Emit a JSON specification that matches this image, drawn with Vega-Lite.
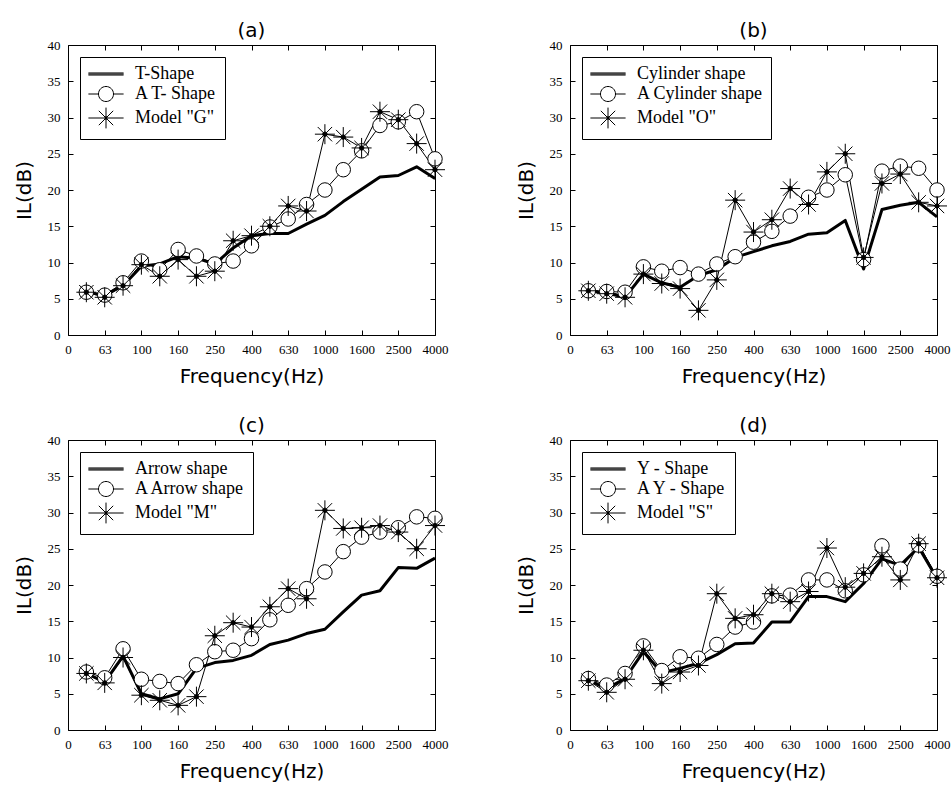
{
"$schema": "https://vega.github.io/schema/vega-lite/v6.json",
"autosize": {"type": "pad"},
"padding": {"left": 13, "top": 20, "right": 4, "bottom": 6},
"background": "white",
"config": {
  "view": {"stroke": "black", "strokeWidth": 1},
  "font": "DejaVu Sans",
  "axis": {"grid": false, "domain": false, "tickColor": "black", "tickSize": -5, "labelFont": "Liberation Serif", "labelFontSize": 13, "labelColor": "black", "labelPadding": 13, "labelOverlap": false, "labelFlush": false, "titleFont": "DejaVu Sans", "titleFontSize": 20, "titleFontWeight": "normal", "titleColor": "black"},
  "axisX": {"titlePadding": 10},
  "axisY": {"titlePadding": 13},
  "title": {"font": "DejaVu Sans", "fontSize": 20, "fontWeight": "normal", "color": "black", "offset": -2},
  "legend": {"orient": "top-left", "offset": 12, "padding": 8, "strokeColor": "black", "fillColor": "white", "labelFont": "Liberation Serif", "labelFontSize": 18, "labelColor": "black", "symbolSize": 256, "symbolOffset": 9, "labelOffset": 20, "rowPadding": 1, "symbolOpacity": 1, "symbolStrokeColor": "black", "symbolFillColor": "white", "symbolStrokeWidth": 1, "labelLimit": 400}
},
"datasets": {
"a": [
{"role":"main","series":"T-Shape","i":1,"v":5.9},{"role":"main","series":"T-Shape","i":2,"v":5.5},{"role":"main","series":"T-Shape","i":3,"v":6.8},{"role":"main","series":"T-Shape","i":4,"v":9.5},{"role":"main","series":"T-Shape","i":5,"v":9.8},{"role":"main","series":"T-Shape","i":6,"v":10.8},{"role":"main","series":"T-Shape","i":7,"v":10.6},{"role":"main","series":"T-Shape","i":8,"v":9.8},{"role":"main","series":"T-Shape","i":9,"v":12.0},{"role":"main","series":"T-Shape","i":10,"v":13.7},{"role":"main","series":"T-Shape","i":11,"v":14.0},{"role":"main","series":"T-Shape","i":12,"v":14.0},{"role":"main","series":"T-Shape","i":13,"v":15.3},{"role":"main","series":"T-Shape","i":14,"v":16.5},{"role":"main","series":"T-Shape","i":15,"v":18.4},{"role":"main","series":"T-Shape","i":16,"v":20.1},{"role":"main","series":"T-Shape","i":17,"v":21.8},{"role":"main","series":"T-Shape","i":18,"v":22.0},{"role":"main","series":"T-Shape","i":19,"v":23.2},{"role":"main","series":"T-Shape","i":20,"v":21.6},
{"role":"A","series":"A T- Shape","i":1,"v":5.9},{"role":"A","series":"A T- Shape","i":2,"v":5.5},{"role":"A","series":"A T- Shape","i":3,"v":7.2},{"role":"A","series":"A T- Shape","i":4,"v":10.2},{"role":"A","series":"A T- Shape","i":5,"v":9.0},{"role":"A","series":"A T- Shape","i":6,"v":11.8},{"role":"A","series":"A T- Shape","i":7,"v":10.9},{"role":"A","series":"A T- Shape","i":8,"v":9.8},{"role":"A","series":"A T- Shape","i":9,"v":10.2},{"role":"A","series":"A T- Shape","i":10,"v":12.3},{"role":"A","series":"A T- Shape","i":11,"v":14.9},{"role":"A","series":"A T- Shape","i":12,"v":16.0},{"role":"A","series":"A T- Shape","i":13,"v":18.0},{"role":"A","series":"A T- Shape","i":14,"v":20.0},{"role":"A","series":"A T- Shape","i":15,"v":22.8},{"role":"A","series":"A T- Shape","i":16,"v":25.4},{"role":"A","series":"A T- Shape","i":17,"v":28.9},{"role":"A","series":"A T- Shape","i":18,"v":29.4},{"role":"A","series":"A T- Shape","i":19,"v":30.8},{"role":"A","series":"A T- Shape","i":20,"v":24.3},
{"role":"model","series":"Model \"G\"","i":1,"v":5.9},{"role":"model","series":"Model \"G\"","i":2,"v":5.2},{"role":"model","series":"Model \"G\"","i":3,"v":6.8},{"role":"model","series":"Model \"G\"","i":4,"v":9.7},{"role":"model","series":"Model \"G\"","i":5,"v":8.1},{"role":"model","series":"Model \"G\"","i":6,"v":10.4},{"role":"model","series":"Model \"G\"","i":7,"v":8.1},{"role":"model","series":"Model \"G\"","i":8,"v":8.8},{"role":"model","series":"Model \"G\"","i":9,"v":13.0},{"role":"model","series":"Model \"G\"","i":10,"v":13.7},{"role":"model","series":"Model \"G\"","i":11,"v":15.0},{"role":"model","series":"Model \"G\"","i":12,"v":17.8},{"role":"model","series":"Model \"G\"","i":13,"v":17.1},{"role":"model","series":"Model \"G\"","i":14,"v":27.7},{"role":"model","series":"Model \"G\"","i":15,"v":27.3},{"role":"model","series":"Model \"G\"","i":16,"v":25.8},{"role":"model","series":"Model \"G\"","i":17,"v":30.8},{"role":"model","series":"Model \"G\"","i":18,"v":29.7},{"role":"model","series":"Model \"G\"","i":19,"v":26.4},{"role":"model","series":"Model \"G\"","i":20,"v":22.8}
],
"b": [
{"role":"main","series":"Cylinder shape","i":1,"v":6.1},{"role":"main","series":"Cylinder shape","i":2,"v":5.8},{"role":"main","series":"Cylinder shape","i":3,"v":5.2},{"role":"main","series":"Cylinder shape","i":4,"v":8.4},{"role":"main","series":"Cylinder shape","i":5,"v":7.2},{"role":"main","series":"Cylinder shape","i":6,"v":6.6},{"role":"main","series":"Cylinder shape","i":7,"v":8.2},{"role":"main","series":"Cylinder shape","i":8,"v":9.0},{"role":"main","series":"Cylinder shape","i":9,"v":10.7},{"role":"main","series":"Cylinder shape","i":10,"v":11.5},{"role":"main","series":"Cylinder shape","i":11,"v":12.3},{"role":"main","series":"Cylinder shape","i":12,"v":12.9},{"role":"main","series":"Cylinder shape","i":13,"v":13.9},{"role":"main","series":"Cylinder shape","i":14,"v":14.1},{"role":"main","series":"Cylinder shape","i":15,"v":15.8},{"role":"main","series":"Cylinder shape","i":16,"v":9.1},{"role":"main","series":"Cylinder shape","i":17,"v":17.3},{"role":"main","series":"Cylinder shape","i":18,"v":17.9},{"role":"main","series":"Cylinder shape","i":19,"v":18.3},{"role":"main","series":"Cylinder shape","i":20,"v":16.3},
{"role":"A","series":"A Cylinder shape","i":1,"v":6.1},{"role":"A","series":"A Cylinder shape","i":2,"v":6.0},{"role":"A","series":"A Cylinder shape","i":3,"v":5.9},{"role":"A","series":"A Cylinder shape","i":4,"v":9.4},{"role":"A","series":"A Cylinder shape","i":5,"v":8.8},{"role":"A","series":"A Cylinder shape","i":6,"v":9.3},{"role":"A","series":"A Cylinder shape","i":7,"v":8.4},{"role":"A","series":"A Cylinder shape","i":8,"v":9.8},{"role":"A","series":"A Cylinder shape","i":9,"v":10.8},{"role":"A","series":"A Cylinder shape","i":10,"v":12.8},{"role":"A","series":"A Cylinder shape","i":11,"v":14.3},{"role":"A","series":"A Cylinder shape","i":12,"v":16.4},{"role":"A","series":"A Cylinder shape","i":13,"v":19.0},{"role":"A","series":"A Cylinder shape","i":14,"v":20.0},{"role":"A","series":"A Cylinder shape","i":15,"v":22.1},{"role":"A","series":"A Cylinder shape","i":16,"v":10.4},{"role":"A","series":"A Cylinder shape","i":17,"v":22.6},{"role":"A","series":"A Cylinder shape","i":18,"v":23.3},{"role":"A","series":"A Cylinder shape","i":19,"v":23.0},{"role":"A","series":"A Cylinder shape","i":20,"v":20.0},
{"role":"model","series":"Model \"O\"","i":1,"v":6.1},{"role":"model","series":"Model \"O\"","i":2,"v":5.7},{"role":"model","series":"Model \"O\"","i":3,"v":5.2},{"role":"model","series":"Model \"O\"","i":4,"v":8.4},{"role":"model","series":"Model \"O\"","i":5,"v":7.1},{"role":"model","series":"Model \"O\"","i":6,"v":6.4},{"role":"model","series":"Model \"O\"","i":7,"v":3.4},{"role":"model","series":"Model \"O\"","i":8,"v":7.6},{"role":"model","series":"Model \"O\"","i":9,"v":18.6},{"role":"model","series":"Model \"O\"","i":10,"v":14.2},{"role":"model","series":"Model \"O\"","i":11,"v":15.9},{"role":"model","series":"Model \"O\"","i":12,"v":20.2},{"role":"model","series":"Model \"O\"","i":13,"v":18.0},{"role":"model","series":"Model \"O\"","i":14,"v":22.5},{"role":"model","series":"Model \"O\"","i":15,"v":25.0},{"role":"model","series":"Model \"O\"","i":16,"v":10.7},{"role":"model","series":"Model \"O\"","i":17,"v":20.9},{"role":"model","series":"Model \"O\"","i":18,"v":22.2},{"role":"model","series":"Model \"O\"","i":19,"v":18.3},{"role":"model","series":"Model \"O\"","i":20,"v":17.8}
],
"c": [
{"role":"main","series":"Arrow shape","i":1,"v":7.8},{"role":"main","series":"Arrow shape","i":2,"v":6.6},{"role":"main","series":"Arrow shape","i":3,"v":10.2},{"role":"main","series":"Arrow shape","i":4,"v":5.0},{"role":"main","series":"Arrow shape","i":5,"v":4.3},{"role":"main","series":"Arrow shape","i":6,"v":5.0},{"role":"main","series":"Arrow shape","i":7,"v":8.5},{"role":"main","series":"Arrow shape","i":8,"v":9.3},{"role":"main","series":"Arrow shape","i":9,"v":9.6},{"role":"main","series":"Arrow shape","i":10,"v":10.3},{"role":"main","series":"Arrow shape","i":11,"v":11.8},{"role":"main","series":"Arrow shape","i":12,"v":12.4},{"role":"main","series":"Arrow shape","i":13,"v":13.3},{"role":"main","series":"Arrow shape","i":14,"v":13.9},{"role":"main","series":"Arrow shape","i":15,"v":16.3},{"role":"main","series":"Arrow shape","i":16,"v":18.6},{"role":"main","series":"Arrow shape","i":17,"v":19.2},{"role":"main","series":"Arrow shape","i":18,"v":22.4},{"role":"main","series":"Arrow shape","i":19,"v":22.3},{"role":"main","series":"Arrow shape","i":20,"v":23.7},
{"role":"A","series":"A Arrow shape","i":1,"v":8.0},{"role":"A","series":"A Arrow shape","i":2,"v":7.2},{"role":"A","series":"A Arrow shape","i":3,"v":11.2},{"role":"A","series":"A Arrow shape","i":4,"v":7.0},{"role":"A","series":"A Arrow shape","i":5,"v":6.7},{"role":"A","series":"A Arrow shape","i":6,"v":6.4},{"role":"A","series":"A Arrow shape","i":7,"v":9.0},{"role":"A","series":"A Arrow shape","i":8,"v":10.8},{"role":"A","series":"A Arrow shape","i":9,"v":11.0},{"role":"A","series":"A Arrow shape","i":10,"v":12.6},{"role":"A","series":"A Arrow shape","i":11,"v":15.2},{"role":"A","series":"A Arrow shape","i":12,"v":17.2},{"role":"A","series":"A Arrow shape","i":13,"v":19.5},{"role":"A","series":"A Arrow shape","i":14,"v":21.8},{"role":"A","series":"A Arrow shape","i":15,"v":24.6},{"role":"A","series":"A Arrow shape","i":16,"v":26.6},{"role":"A","series":"A Arrow shape","i":17,"v":27.3},{"role":"A","series":"A Arrow shape","i":18,"v":27.9},{"role":"A","series":"A Arrow shape","i":19,"v":29.4},{"role":"A","series":"A Arrow shape","i":20,"v":29.2},
{"role":"model","series":"Model \"M\"","i":1,"v":7.8},{"role":"model","series":"Model \"M\"","i":2,"v":6.5},{"role":"model","series":"Model \"M\"","i":3,"v":10.0},{"role":"model","series":"Model \"M\"","i":4,"v":4.8},{"role":"model","series":"Model \"M\"","i":5,"v":4.1},{"role":"model","series":"Model \"M\"","i":6,"v":3.4},{"role":"model","series":"Model \"M\"","i":7,"v":4.6},{"role":"model","series":"Model \"M\"","i":8,"v":13.0},{"role":"model","series":"Model \"M\"","i":9,"v":14.8},{"role":"model","series":"Model \"M\"","i":10,"v":14.2},{"role":"model","series":"Model \"M\"","i":11,"v":17.0},{"role":"model","series":"Model \"M\"","i":12,"v":19.5},{"role":"model","series":"Model \"M\"","i":13,"v":18.1},{"role":"model","series":"Model \"M\"","i":14,"v":30.3},{"role":"model","series":"Model \"M\"","i":15,"v":27.8},{"role":"model","series":"Model \"M\"","i":16,"v":27.9},{"role":"model","series":"Model \"M\"","i":17,"v":28.2},{"role":"model","series":"Model \"M\"","i":18,"v":27.3},{"role":"model","series":"Model \"M\"","i":19,"v":25.0},{"role":"model","series":"Model \"M\"","i":20,"v":28.2}
],
"d": [
{"role":"main","series":"Y - Shape","i":1,"v":6.9},{"role":"main","series":"Y - Shape","i":2,"v":5.7},{"role":"main","series":"Y - Shape","i":3,"v":7.1},{"role":"main","series":"Y - Shape","i":4,"v":10.8},{"role":"main","series":"Y - Shape","i":5,"v":7.9},{"role":"main","series":"Y - Shape","i":6,"v":8.5},{"role":"main","series":"Y - Shape","i":7,"v":9.2},{"role":"main","series":"Y - Shape","i":8,"v":10.4},{"role":"main","series":"Y - Shape","i":9,"v":11.9},{"role":"main","series":"Y - Shape","i":10,"v":12.0},{"role":"main","series":"Y - Shape","i":11,"v":14.9},{"role":"main","series":"Y - Shape","i":12,"v":14.9},{"role":"main","series":"Y - Shape","i":13,"v":18.4},{"role":"main","series":"Y - Shape","i":14,"v":18.4},{"role":"main","series":"Y - Shape","i":15,"v":17.7},{"role":"main","series":"Y - Shape","i":16,"v":20.2},{"role":"main","series":"Y - Shape","i":17,"v":23.6},{"role":"main","series":"Y - Shape","i":18,"v":22.7},{"role":"main","series":"Y - Shape","i":19,"v":25.2},{"role":"main","series":"Y - Shape","i":20,"v":20.9},
{"role":"A","series":"A Y - Shape","i":1,"v":7.1},{"role":"A","series":"A Y - Shape","i":2,"v":6.2},{"role":"A","series":"A Y - Shape","i":3,"v":7.8},{"role":"A","series":"A Y - Shape","i":4,"v":11.6},{"role":"A","series":"A Y - Shape","i":5,"v":8.2},{"role":"A","series":"A Y - Shape","i":6,"v":10.1},{"role":"A","series":"A Y - Shape","i":7,"v":9.9},{"role":"A","series":"A Y - Shape","i":8,"v":11.8},{"role":"A","series":"A Y - Shape","i":9,"v":14.2},{"role":"A","series":"A Y - Shape","i":10,"v":14.9},{"role":"A","series":"A Y - Shape","i":11,"v":18.5},{"role":"A","series":"A Y - Shape","i":12,"v":18.6},{"role":"A","series":"A Y - Shape","i":13,"v":20.7},{"role":"A","series":"A Y - Shape","i":14,"v":20.7},{"role":"A","series":"A Y - Shape","i":15,"v":19.2},{"role":"A","series":"A Y - Shape","i":16,"v":21.4},{"role":"A","series":"A Y - Shape","i":17,"v":25.4},{"role":"A","series":"A Y - Shape","i":18,"v":22.2},{"role":"A","series":"A Y - Shape","i":19,"v":25.5},{"role":"A","series":"A Y - Shape","i":20,"v":21.2},
{"role":"model","series":"Model \"S\"","i":1,"v":6.8},{"role":"model","series":"Model \"S\"","i":2,"v":5.2},{"role":"model","series":"Model \"S\"","i":3,"v":7.0},{"role":"model","series":"Model \"S\"","i":4,"v":11.0},{"role":"model","series":"Model \"S\"","i":5,"v":6.4},{"role":"model","series":"Model \"S\"","i":6,"v":8.0},{"role":"model","series":"Model \"S\"","i":7,"v":8.9},{"role":"model","series":"Model \"S\"","i":8,"v":18.8},{"role":"model","series":"Model \"S\"","i":9,"v":15.4},{"role":"model","series":"Model \"S\"","i":10,"v":15.9},{"role":"model","series":"Model \"S\"","i":11,"v":18.8},{"role":"model","series":"Model \"S\"","i":12,"v":17.7},{"role":"model","series":"Model \"S\"","i":13,"v":19.1},{"role":"model","series":"Model \"S\"","i":14,"v":25.1},{"role":"model","series":"Model \"S\"","i":15,"v":19.7},{"role":"model","series":"Model \"S\"","i":16,"v":21.6},{"role":"model","series":"Model \"S\"","i":17,"v":23.9},{"role":"model","series":"Model \"S\"","i":18,"v":20.7},{"role":"model","series":"Model \"S\"","i":19,"v":25.7},{"role":"model","series":"Model \"S\"","i":20,"v":21.0}
]
},
"columns": 2,
"spacing": {"row": 105, "column": 135},
"bounds": "flush",
"resolve": {"scale": {"shape": "independent"}, "legend": {"shape": "independent"}},
"concat": [
{"title": "(a)", "width": 367, "height": 290, "data": {"name": "a"},
 "resolve": {"axis": {"x": "independent", "y": "independent"}},
 "layer": [
  {"transform": [{"filter": {"field": "role", "equal": "main"}}], "mark": {"type": "line", "stroke": "black", "strokeWidth": 3, "strokeJoin": "round"},
   "encoding": {"x": {"field": "i", "type": "quantitative", "scale": {"domain": [0, 20]}, "axis": {"values": [0,2,4,6,8,10,12,14,16,18,20], "labelExpr": "['0','63','100','160','250','400','630','1000','1600','2500','4000'][datum.value/2]", "title": "Frequency(Hz)"}},
                "y": {"field": "v", "type": "quantitative", "scale": {"domain": [0, 40]}, "axis": {"values": [0,5,10,15,20,25,30,35,40], "title": "IL(dB)"}}}},
  {"transform": [{"filter": {"field": "role", "equal": "A"}}], "mark": {"type": "line", "stroke": "black", "strokeWidth": 1},
   "encoding": {"x": {"field": "i", "type": "quantitative", "axis": {"orient": "top", "values": [0,2,4,6,8,10,12,14,16,18,20], "labels": false, "title": null}},
                "y": {"field": "v", "type": "quantitative", "axis": {"orient": "right", "values": [0,5,10,15,20,25,30,35,40], "labels": false, "title": null}}}},
  {"transform": [{"filter": {"field": "role", "equal": "model"}}], "mark": {"type": "line", "stroke": "black", "strokeWidth": 1},
   "encoding": {"x": {"field": "i", "type": "quantitative", "axis": null}, "y": {"field": "v", "type": "quantitative", "axis": null}}},
  {"transform": [{"filter": {"field": "role", "equal": "A"}}], "mark": {"type": "point", "shape": "circle", "size": 210, "filled": true, "fill": "white", "stroke": "black", "strokeWidth": 1, "opacity": 1},
   "encoding": {"x": {"field": "i", "type": "quantitative", "axis": null}, "y": {"field": "v", "type": "quantitative", "axis": null}}},
  {"transform": [{"filter": {"field": "role", "equal": "model"}}], "mark": {"type": "point", "shape": "M0,-1V1M-1,0H1M-0.72,-0.72L0.72,0.72M-0.72,0.72L0.72,-0.72M-0.22,0A0.22,0.22 0 1 1 0.22,0A0.22,0.22 0 1 1 -0.22,0", "size": 400, "filled": true, "fill": "black", "stroke": "black", "strokeWidth": 1, "opacity": 1},
   "encoding": {"x": {"field": "i", "type": "quantitative", "axis": null}, "y": {"field": "v", "type": "quantitative", "axis": null}}},
  {"mark": {"type": "point", "opacity": 0},
   "encoding": {"x": {"field": "i", "type": "quantitative", "axis": null}, "y": {"field": "v", "type": "quantitative", "axis": null},
     "shape": {"field": "series", "type": "nominal", "scale": {"domain": ["T-Shape", "A T- Shape", "Model \"G\""], "range": ["M-2.2,-0.13H2.2M-2.2,0H2.2M-2.2,0.13H2.2", "M-2.2,0H-0.94M0.94,0H2.2M-0.94,0A0.94,0.94 0 1 1 0.94,0A0.94,0.94 0 1 1 -0.94,0", "M-2.2,0H2.2M0,-1.3V1.3M-0.9,-0.9L0.9,0.9M-0.9,0.9L0.9,-0.9M-0.22,-0.14H0.22M-0.22,0.14H0.22"]},
       "legend": {"title": null}}}}
 ]},
{"title": "(b)", "width": 367, "height": 290, "data": {"name": "b"},
 "resolve": {"axis": {"x": "independent", "y": "independent"}},
 "layer": [
  {"transform": [{"filter": {"field": "role", "equal": "main"}}], "mark": {"type": "line", "stroke": "black", "strokeWidth": 3, "strokeJoin": "round"},
   "encoding": {"x": {"field": "i", "type": "quantitative", "scale": {"domain": [0, 20]}, "axis": {"values": [0,2,4,6,8,10,12,14,16,18,20], "labelExpr": "['0','63','100','160','250','400','630','1000','1600','2500','4000'][datum.value/2]", "title": "Frequency(Hz)"}},
                "y": {"field": "v", "type": "quantitative", "scale": {"domain": [0, 40]}, "axis": {"values": [0,5,10,15,20,25,30,35,40], "title": "IL(dB)"}}}},
  {"transform": [{"filter": {"field": "role", "equal": "A"}}], "mark": {"type": "line", "stroke": "black", "strokeWidth": 1},
   "encoding": {"x": {"field": "i", "type": "quantitative", "axis": {"orient": "top", "values": [0,2,4,6,8,10,12,14,16,18,20], "labels": false, "title": null}},
                "y": {"field": "v", "type": "quantitative", "axis": {"orient": "right", "values": [0,5,10,15,20,25,30,35,40], "labels": false, "title": null}}}},
  {"transform": [{"filter": {"field": "role", "equal": "model"}}], "mark": {"type": "line", "stroke": "black", "strokeWidth": 1},
   "encoding": {"x": {"field": "i", "type": "quantitative", "axis": null}, "y": {"field": "v", "type": "quantitative", "axis": null}}},
  {"transform": [{"filter": {"field": "role", "equal": "A"}}], "mark": {"type": "point", "shape": "circle", "size": 210, "filled": true, "fill": "white", "stroke": "black", "strokeWidth": 1, "opacity": 1},
   "encoding": {"x": {"field": "i", "type": "quantitative", "axis": null}, "y": {"field": "v", "type": "quantitative", "axis": null}}},
  {"transform": [{"filter": {"field": "role", "equal": "model"}}], "mark": {"type": "point", "shape": "M0,-1V1M-1,0H1M-0.72,-0.72L0.72,0.72M-0.72,0.72L0.72,-0.72M-0.22,0A0.22,0.22 0 1 1 0.22,0A0.22,0.22 0 1 1 -0.22,0", "size": 400, "filled": true, "fill": "black", "stroke": "black", "strokeWidth": 1, "opacity": 1},
   "encoding": {"x": {"field": "i", "type": "quantitative", "axis": null}, "y": {"field": "v", "type": "quantitative", "axis": null}}},
  {"mark": {"type": "point", "opacity": 0},
   "encoding": {"x": {"field": "i", "type": "quantitative", "axis": null}, "y": {"field": "v", "type": "quantitative", "axis": null},
     "shape": {"field": "series", "type": "nominal", "scale": {"domain": ["Cylinder shape", "A Cylinder shape", "Model \"O\""], "range": ["M-2.2,-0.13H2.2M-2.2,0H2.2M-2.2,0.13H2.2", "M-2.2,0H-0.94M0.94,0H2.2M-0.94,0A0.94,0.94 0 1 1 0.94,0A0.94,0.94 0 1 1 -0.94,0", "M-2.2,0H2.2M0,-1.3V1.3M-0.9,-0.9L0.9,0.9M-0.9,0.9L0.9,-0.9M-0.22,-0.14H0.22M-0.22,0.14H0.22"]},
       "legend": {"title": null}}}}
 ]},
{"title": "(c)", "width": 367, "height": 290, "data": {"name": "c"},
 "resolve": {"axis": {"x": "independent", "y": "independent"}},
 "layer": [
  {"transform": [{"filter": {"field": "role", "equal": "main"}}], "mark": {"type": "line", "stroke": "black", "strokeWidth": 3, "strokeJoin": "round"},
   "encoding": {"x": {"field": "i", "type": "quantitative", "scale": {"domain": [0, 20]}, "axis": {"values": [0,2,4,6,8,10,12,14,16,18,20], "labelExpr": "['0','63','100','160','250','400','630','1000','1600','2500','4000'][datum.value/2]", "title": "Frequency(Hz)"}},
                "y": {"field": "v", "type": "quantitative", "scale": {"domain": [0, 40]}, "axis": {"values": [0,5,10,15,20,25,30,35,40], "title": "IL(dB)"}}}},
  {"transform": [{"filter": {"field": "role", "equal": "A"}}], "mark": {"type": "line", "stroke": "black", "strokeWidth": 1},
   "encoding": {"x": {"field": "i", "type": "quantitative", "axis": {"orient": "top", "values": [0,2,4,6,8,10,12,14,16,18,20], "labels": false, "title": null}},
                "y": {"field": "v", "type": "quantitative", "axis": {"orient": "right", "values": [0,5,10,15,20,25,30,35,40], "labels": false, "title": null}}}},
  {"transform": [{"filter": {"field": "role", "equal": "model"}}], "mark": {"type": "line", "stroke": "black", "strokeWidth": 1},
   "encoding": {"x": {"field": "i", "type": "quantitative", "axis": null}, "y": {"field": "v", "type": "quantitative", "axis": null}}},
  {"transform": [{"filter": {"field": "role", "equal": "A"}}], "mark": {"type": "point", "shape": "circle", "size": 210, "filled": true, "fill": "white", "stroke": "black", "strokeWidth": 1, "opacity": 1},
   "encoding": {"x": {"field": "i", "type": "quantitative", "axis": null}, "y": {"field": "v", "type": "quantitative", "axis": null}}},
  {"transform": [{"filter": {"field": "role", "equal": "model"}}], "mark": {"type": "point", "shape": "M0,-1V1M-1,0H1M-0.72,-0.72L0.72,0.72M-0.72,0.72L0.72,-0.72M-0.22,0A0.22,0.22 0 1 1 0.22,0A0.22,0.22 0 1 1 -0.22,0", "size": 400, "filled": true, "fill": "black", "stroke": "black", "strokeWidth": 1, "opacity": 1},
   "encoding": {"x": {"field": "i", "type": "quantitative", "axis": null}, "y": {"field": "v", "type": "quantitative", "axis": null}}},
  {"mark": {"type": "point", "opacity": 0},
   "encoding": {"x": {"field": "i", "type": "quantitative", "axis": null}, "y": {"field": "v", "type": "quantitative", "axis": null},
     "shape": {"field": "series", "type": "nominal", "scale": {"domain": ["Arrow shape", "A Arrow shape", "Model \"M\""], "range": ["M-2.2,-0.13H2.2M-2.2,0H2.2M-2.2,0.13H2.2", "M-2.2,0H-0.94M0.94,0H2.2M-0.94,0A0.94,0.94 0 1 1 0.94,0A0.94,0.94 0 1 1 -0.94,0", "M-2.2,0H2.2M0,-1.3V1.3M-0.9,-0.9L0.9,0.9M-0.9,0.9L0.9,-0.9M-0.22,-0.14H0.22M-0.22,0.14H0.22"]},
       "legend": {"title": null}}}}
 ]},
{"title": "(d)", "width": 367, "height": 290, "data": {"name": "d"},
 "resolve": {"axis": {"x": "independent", "y": "independent"}},
 "layer": [
  {"transform": [{"filter": {"field": "role", "equal": "main"}}], "mark": {"type": "line", "stroke": "black", "strokeWidth": 3, "strokeJoin": "round"},
   "encoding": {"x": {"field": "i", "type": "quantitative", "scale": {"domain": [0, 20]}, "axis": {"values": [0,2,4,6,8,10,12,14,16,18,20], "labelExpr": "['0','63','100','160','250','400','630','1000','1600','2500','4000'][datum.value/2]", "title": "Frequency(Hz)"}},
                "y": {"field": "v", "type": "quantitative", "scale": {"domain": [0, 40]}, "axis": {"values": [0,5,10,15,20,25,30,35,40], "title": "IL(dB)"}}}},
  {"transform": [{"filter": {"field": "role", "equal": "A"}}], "mark": {"type": "line", "stroke": "black", "strokeWidth": 1},
   "encoding": {"x": {"field": "i", "type": "quantitative", "axis": {"orient": "top", "values": [0,2,4,6,8,10,12,14,16,18,20], "labels": false, "title": null}},
                "y": {"field": "v", "type": "quantitative", "axis": {"orient": "right", "values": [0,5,10,15,20,25,30,35,40], "labels": false, "title": null}}}},
  {"transform": [{"filter": {"field": "role", "equal": "model"}}], "mark": {"type": "line", "stroke": "black", "strokeWidth": 1},
   "encoding": {"x": {"field": "i", "type": "quantitative", "axis": null}, "y": {"field": "v", "type": "quantitative", "axis": null}}},
  {"transform": [{"filter": {"field": "role", "equal": "A"}}], "mark": {"type": "point", "shape": "circle", "size": 210, "filled": true, "fill": "white", "stroke": "black", "strokeWidth": 1, "opacity": 1},
   "encoding": {"x": {"field": "i", "type": "quantitative", "axis": null}, "y": {"field": "v", "type": "quantitative", "axis": null}}},
  {"transform": [{"filter": {"field": "role", "equal": "model"}}], "mark": {"type": "point", "shape": "M0,-1V1M-1,0H1M-0.72,-0.72L0.72,0.72M-0.72,0.72L0.72,-0.72M-0.22,0A0.22,0.22 0 1 1 0.22,0A0.22,0.22 0 1 1 -0.22,0", "size": 400, "filled": true, "fill": "black", "stroke": "black", "strokeWidth": 1, "opacity": 1},
   "encoding": {"x": {"field": "i", "type": "quantitative", "axis": null}, "y": {"field": "v", "type": "quantitative", "axis": null}}},
  {"mark": {"type": "point", "opacity": 0},
   "encoding": {"x": {"field": "i", "type": "quantitative", "axis": null}, "y": {"field": "v", "type": "quantitative", "axis": null},
     "shape": {"field": "series", "type": "nominal", "scale": {"domain": ["Y - Shape", "A Y - Shape", "Model \"S\""], "range": ["M-2.2,-0.13H2.2M-2.2,0H2.2M-2.2,0.13H2.2", "M-2.2,0H-0.94M0.94,0H2.2M-0.94,0A0.94,0.94 0 1 1 0.94,0A0.94,0.94 0 1 1 -0.94,0", "M-2.2,0H2.2M0,-1.3V1.3M-0.9,-0.9L0.9,0.9M-0.9,0.9L0.9,-0.9M-0.22,-0.14H0.22M-0.22,0.14H0.22"]},
       "legend": {"title": null}}}}
 ]}
]
}
